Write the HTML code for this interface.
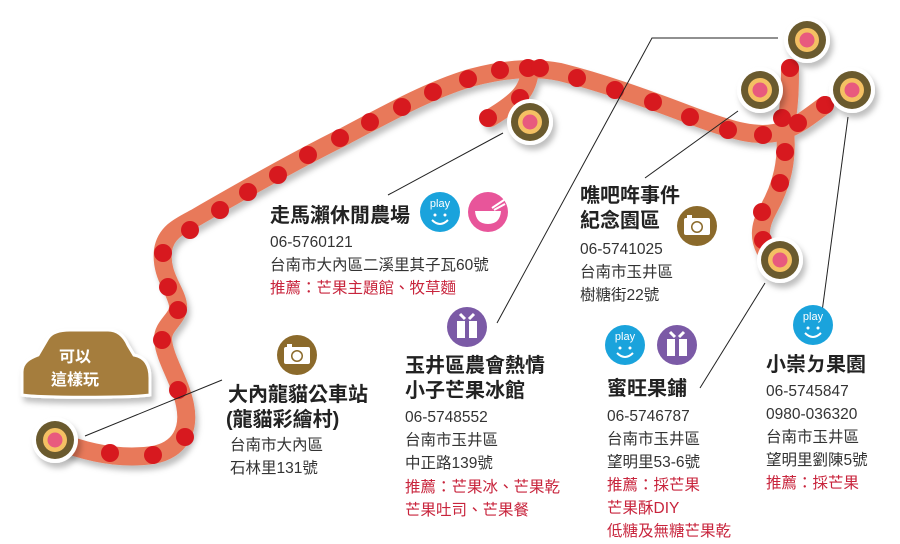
<!DOCTYPE html>
<html><head><meta charset="utf-8"><style>
html,body{margin:0;padding:0;background:#fff;}
svg{display:block}
text{font-family:"Liberation Sans","Noto Sans CJK TC",sans-serif;}
.t{font-size:20px;font-weight:bold;fill:#222}
.b{font-size:15.5px;fill:#333}
.r{font-size:15.5px;fill:#c8243c}
</style></head><body>
<svg width="900" height="544" viewBox="0 0 900 544" xmlns="http://www.w3.org/2000/svg">
<defs>
<filter id="sh" x="-10%" y="-10%" width="130%" height="130%"><feDropShadow dx="3" dy="5" stdDeviation="3" flood-color="#000" flood-opacity="0.25"/></filter>
<g id="node"><circle r="23" fill="#fff"/><circle r="19" fill="#6b5a2e"/><circle r="12" fill="#f4c064"/><circle r="7.5" fill="#e85a7e"/></g>
<g id="cam"><circle r="20" fill="#8b6a2b"/><rect x="-13" y="-8" width="26" height="17" rx="2" fill="#fff"/><circle cx="0" cy="1" r="6" fill="#8b6a2b"/><circle cx="0" cy="1" r="4.5" fill="#fff"/><rect x="-10" y="-11" width="5" height="3" fill="#fff"/></g>
<g id="play"><circle r="20" fill="#1aa3dc"/><text x="0" y="-5" text-anchor="middle" style="font-size:11px;fill:#fff">play</text><circle cx="-5" cy="3" r="1.5" fill="#fff"/><circle cx="5" cy="3" r="1.5" fill="#fff"/><path d="M-8 8 Q0 16 8 8" stroke="#fff" stroke-width="2" fill="none"/></g>
<g id="gift"><circle r="20" fill="#7b5aa6"/><rect x="-10" y="-6" width="20" height="17" fill="#fff"/><rect x="-2" y="-6" width="4" height="17" fill="#7b5aa6"/><path d="M-2 -8 L-7 -13 M2 -8 L7 -13" stroke="#fff" stroke-width="3"/></g>
</defs>
<g filter="url(#sh)" fill="none" stroke="#e8795a" stroke-width="18" stroke-linecap="round">
<path d="M55 440 C85 452,120 460,153 455 C180 450,190 430,185 405 C180 380,165 360,163 340 C162 325,180 318,178 305 C176 290,160 275,163 250 C166 232,180 226,195 218 C240 192,300 158,345 136 C390 112,430 90,470 78 C500 70,530 66,560 72 C600 82,640 96,690 115 C730 130,760 140,785 130 C800 125,815 112,825 105"/>
<path d="M785 130 C790 105,790 85,790 68"/>
<path d="M785 130 C788 160,782 185,768 210 C758 228,760 240,765 250"/>
<path d="M530 70 C528 90,520 100,490 118"/>
</g>
<g fill="#d7191f">
<circle cx="110" cy="453" r="9"/><circle cx="153" cy="455" r="9"/><circle cx="185" cy="437" r="9"/><circle cx="178" cy="390" r="9"/><circle cx="162" cy="340" r="9"/><circle cx="178" cy="310" r="9"/><circle cx="168" cy="287" r="9"/><circle cx="163" cy="253" r="9"/>
<circle cx="190" cy="230" r="9"/><circle cx="220" cy="210" r="9"/><circle cx="248" cy="192" r="9"/><circle cx="278" cy="175" r="9"/><circle cx="308" cy="155" r="9"/><circle cx="340" cy="138" r="9"/><circle cx="370" cy="122" r="9"/><circle cx="402" cy="107" r="9"/><circle cx="433" cy="92" r="9"/><circle cx="468" cy="79" r="9"/><circle cx="500" cy="70" r="9"/><circle cx="528" cy="68" r="9"/><circle cx="540" cy="68" r="9"/><circle cx="520" cy="98" r="9"/><circle cx="488" cy="118" r="9"/>
<circle cx="577" cy="78" r="9"/><circle cx="615" cy="90" r="9"/><circle cx="653" cy="102" r="9"/><circle cx="690" cy="117" r="9"/><circle cx="728" cy="130" r="9"/><circle cx="763" cy="135" r="9"/><circle cx="782" cy="118" r="9"/><circle cx="798" cy="123" r="9"/><circle cx="825" cy="105" r="9"/><circle cx="790" cy="68" r="9"/><circle cx="785" cy="152" r="9"/><circle cx="780" cy="183" r="9"/><circle cx="762" cy="212" r="9"/><circle cx="763" cy="240" r="9"/>
</g>
<g filter="url(#sh)">
<use href="#node" x="55" y="440"/><use href="#node" x="530" y="122"/><use href="#node" x="807" y="40"/><use href="#node" x="760" y="90"/><use href="#node" x="852" y="90"/><use href="#node" x="780" y="260"/>
</g>
<g filter="url(#sh)">
<path d="M22 395 L22 372 C22 362,30 358,38 355 L48 338 C52 332,60 330,70 330 L108 330 C118 330,124 336,128 345 L134 355 C145 357,150 365,150 378 L150 395 C130 398,40 398,22 395 Z" fill="#a57d3e" stroke="#fff" stroke-width="3"/>
</g>
<text x="75" y="362" text-anchor="middle" style="font-size:16px;font-weight:bold;fill:#fff">可以</text>
<text x="75" y="385" text-anchor="middle" style="font-size:16px;font-weight:bold;fill:#fff">這樣玩</text>
<g stroke="#222" stroke-width="1" fill="none">
<line x1="85" y1="436" x2="222" y2="380"/>
<line x1="388" y1="195" x2="503" y2="133"/>
<polyline points="497,323 652,38 778,38"/>
<line x1="645" y1="178" x2="738" y2="111"/>
<line x1="700" y1="388" x2="765" y2="283"/>
<line x1="822" y1="312" x2="848" y2="117"/>
</g>
<use href="#cam" x="297" y="355"/>
<use href="#play" x="440" y="212"/>
<g transform="translate(488,212)"><circle r="20" fill="#e8559a"/><path d="M-13 -1 L13 -1 Q12 12 0 12 Q-12 12 -13 -1Z" fill="#fff"/><path d="M4 -4 L16 -12 M6 -2 L17 -8" stroke="#fff" stroke-width="2"/></g>
<use href="#gift" x="467" y="327"/>
<use href="#cam" x="697" y="226"/>
<use href="#play" x="625" y="345"/>
<use href="#gift" x="677" y="345"/>
<use href="#play" x="813" y="325"/>
<text class="t" x="270" y="222">走馬瀨休閒農場</text>
<text class="b" x="270" y="247">06-5760121</text>
<text class="b" x="270" y="270">台南市大內區二溪里其子瓦60號</text>
<text class="r" x="270" y="293">推薦：芒果主題館、牧草麵</text>

<text class="t" x="228" y="401">大內龍貓公車站</text>
<text class="t" x="226" y="426">(龍貓彩繪村)</text>
<text class="b" x="230" y="450">台南市大內區</text>
<text class="b" x="230" y="473">石林里131號</text>

<text class="t" x="405" y="372">玉井區農會熱情</text>
<text class="t" x="405" y="397">小子芒果冰館</text>
<text class="b" x="405" y="422">06-5748552</text>
<text class="b" x="405" y="445">台南市玉井區</text>
<text class="b" x="405" y="468">中正路139號</text>
<text class="r" x="405" y="492">推薦：芒果冰、芒果乾</text>
<text class="r" x="405" y="515">芒果吐司、芒果餐</text>

<text class="t" x="580" y="202">噍吧哖事件</text>
<text class="t" x="580" y="227">紀念園區</text>
<text class="b" x="580" y="254">06-5741025</text>
<text class="b" x="580" y="277">台南市玉井區</text>
<text class="b" x="580" y="300">樹糖街22號</text>

<text class="t" x="607" y="395">蜜旺果鋪</text>
<text class="b" x="607" y="421">06-5746787</text>
<text class="b" x="607" y="444">台南市玉井區</text>
<text class="b" x="607" y="467">望明里53-6號</text>
<text class="r" x="607" y="490">推薦：採芒果</text>
<text class="r" x="607" y="513">芒果酥DIY</text>
<text class="r" x="607" y="536">低糖及無糖芒果乾</text>

<text class="t" x="766" y="371">小崇ㄉ果園</text>
<text class="b" x="766" y="396">06-5745847</text>
<text class="b" x="766" y="419">0980-036320</text>
<text class="b" x="766" y="442">台南市玉井區</text>
<text class="b" x="766" y="465">望明里劉陳5號</text>
<text class="r" x="766" y="488">推薦：採芒果</text>
</svg>
</body></html>
